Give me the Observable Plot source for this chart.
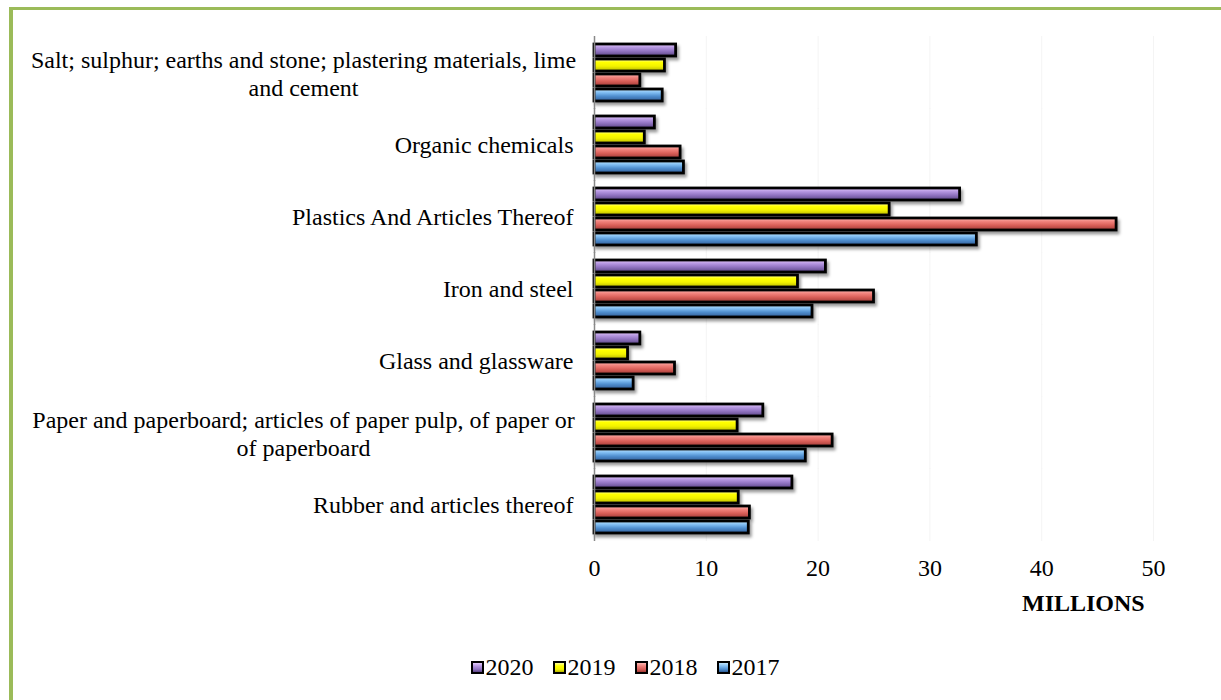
<!DOCTYPE html>
<html><head><meta charset="utf-8">
<script src="https://cdn.jsdelivr.net/npm/d3@7"></script>
<script src="https://cdn.jsdelivr.net/npm/@observablehq/plot@0.6"></script>
<style>
body{margin:0;background:#fff;width:1221px;height:700px;overflow:hidden;position:relative;font-family:"Liberation Serif","Times New Roman",serif;color:#000;}
#frameLeft{position:absolute;left:9px;top:7px;width:4px;height:700px;background:#9bbb59}
#frameTop{position:absolute;left:9px;top:7px;width:1212px;height:3px;background:#9bbb59}
#chart{position:absolute;left:0;top:0}
#xlabel{position:absolute;left:1022px;top:590px;font-weight:bold;font-size:24px;}
#legend{position:absolute;top:654px;left:0;width:1250px;display:flex;justify-content:center;gap:19px;font-size:24px;}
.item{display:flex;align-items:center;}
.sw{width:13px;height:13px;border:2.5px solid #000;box-sizing:border-box;margin-right:2px;}
</style>
</head><body>
<div id="frameLeft"></div><div id="frameTop"></div>
<div id="chart"></div>
<div id="xlabel">MILLIONS</div>
<div id="legend"></div>
<script>
const years = ["2020", "2019", "2018", "2017"];
const categories = [
  "Salt; sulphur; earths and stone; plastering materials, lime and cement",
  "Organic chemicals",
  "Plastics And Articles Thereof",
  "Iron and steel",
  "Glass and glassware",
  "Paper and paperboard; articles of paper pulp, of paper or of paperboard",
  "Rubber and articles thereof"
];
const categoryLabels = [
  "Salt; sulphur; earths and stone; plastering materials, lime\nand cement",
  "Organic chemicals",
  "Plastics And Articles Thereof",
  "Iron and steel",
  "Glass and glassware",
  "Paper and paperboard; articles of paper pulp, of paper or\nof paperboard",
  "Rubber and articles thereof"
];
const v2020 = [7.3, 5.4, 32.7, 20.7, 4.1, 15.1, 17.7];
const v2019 = [6.3, 4.5, 26.4, 18.2, 3.0, 12.8, 12.9];
const v2018 = [4.1, 7.7, 46.7, 25.0, 7.2, 21.3, 13.9];
const v2017 = [6.1, 8.0, 34.2, 19.5, 3.5, 18.9, 13.8];
const xTicks = [0, 10, 20, 30, 40, 50];

const seriesValues = {"2020": v2020, "2019": v2019, "2018": v2018, "2017": v2017};
const gradients = {
  "2020": ["#e4cbfb", "#b596e0", "#9073c0", "#5c4585"],
  "2019": ["#ffff9a", "#ffff00", "#f2f200", "#b5b500"],
  "2018": ["#ffb8b2", "#f0817b", "#d95f59", "#a13a36"],
  "2017": ["#bfe6ff", "#80bdf2", "#4f8ecf", "#2e5d96"]
};

const rows = [];
categories.forEach((c, i) => {
  years.forEach(yr => rows.push({category: c, year: yr, value: seriesValues[yr][i]}));
});
const labelRows = categories.map((c, i) => ({category: c, label: categoryLabels[i], wrapped: categoryLabels[i].includes("\n")}));

const plot = Plot.plot({
  width: 1221,
  height: 590,
  marginLeft: 594,
  marginRight: 68,
  marginTop: 37,
  marginBottom: 49,
  style: {fontFamily: "'Liberation Serif','Times New Roman',serif", fontSize: "24px", color: "#000", background: "transparent", overflow: "visible"},
  x: {domain: [0, 50], ticks: xTicks, tickSize: 0, tickPadding: 23, label: null},
  y: {domain: years, axis: null, paddingInner: 0.2, paddingOuter: 0.05},
  fy: {domain: categories, axis: null, paddingInner: 0.15, paddingOuter: 0.075},
  marks: [
    Plot.ruleX(xTicks.slice(1), {stroke: "#f4f4f4", insetTop: -6, insetBottom: -6}),
    ...years.map(yr => Plot.barX(rows.filter(r => r.year === yr), {
      x: "value", y: "year", fy: "category",
      fill: `url(#g${yr})`, stroke: "#000", strokeWidth: 2.8
    })),
    Plot.ruleX([0], {stroke: "#888888", strokeWidth: 1.5, insetTop: -6, insetBottom: -6}),
    Plot.text(labelRows.filter(d => !d.wrapped), {fy: "category", text: "label", frameAnchor: "left", textAnchor: "end", dx: -21}),
    Plot.text(labelRows.filter(d => d.wrapped), {fy: "category", text: "label", frameAnchor: "left", textAnchor: "middle", dx: -291, lineHeight: 1.15})
  ]
});

const defs = document.createElementNS("http://www.w3.org/2000/svg", "defs");
let html = `<filter id="shadow" x="-5%" y="-30%" width="115%" height="190%"><feDropShadow dx="2" dy="3" stdDeviation="1.6" flood-color="#000" flood-opacity="0.4"/></filter>`;
for (const yr of years) {
  const g = gradients[yr];
  html += `<linearGradient id="g${yr}" x1="0" y1="0" x2="0" y2="1">
    <stop offset="0" stop-color="${g[0]}"/><stop offset="0.3" stop-color="${g[1]}"/>
    <stop offset="0.6" stop-color="${g[2]}"/><stop offset="1" stop-color="${g[3]}"/></linearGradient>`;
}
defs.innerHTML = html;
plot.insertBefore(defs, plot.firstChild);
plot.querySelectorAll('g[aria-label="bar"]').forEach(g => g.setAttribute("filter", "url(#shadow)"));
document.getElementById("chart").appendChild(plot);

const legend = document.getElementById("legend");
for (const yr of years) {
  const g = gradients[yr];
  const item = document.createElement("div");
  item.className = "item";
  const sw = document.createElement("div");
  sw.className = "sw";
  sw.style.background = `linear-gradient(to bottom, ${g[0]}, ${g[1]} 35%, ${g[2]} 70%, ${g[3]})`;
  const t = document.createElement("span");
  t.textContent = yr;
  item.appendChild(sw); item.appendChild(t);
  legend.appendChild(item);
}
</script>
</body></html>
